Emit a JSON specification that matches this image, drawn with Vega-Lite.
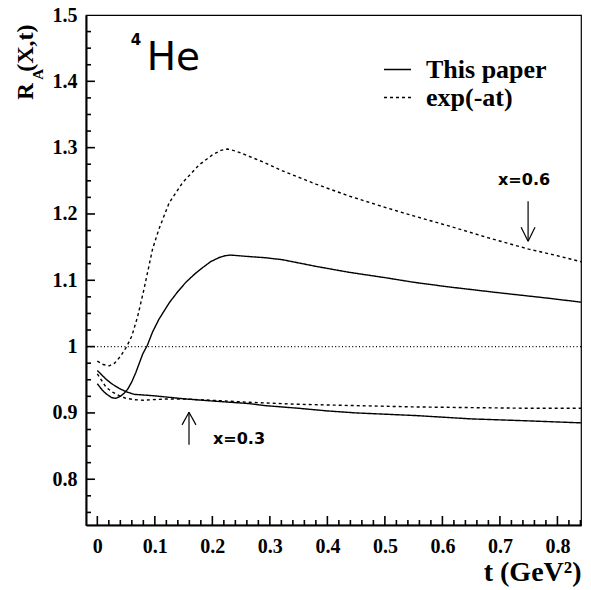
{
  "$schema": "https://vega.github.io/schema/vega-lite/v6.json",
  "width": 495,
  "height": 510,
  "autosize": "none",
  "padding": {"left": 86, "top": 15, "right": 10, "bottom": 65},
  "background": "white",
  "config": {
    "view": {"stroke": "black", "strokeWidth": 1.2},
    "line": {"color": "black", "strokeWidth": 1.4},
    "rule": {"color": "black"},
    "text": {"color": "black"},
    "axis": {
      "zindex": 1,
      "domainColor": "black",
      "domainWidth": 2,
      "grid": false,
      "labelFont": "Liberation Serif",
      "labelFontWeight": "bold",
      "labelFontSize": 20,
      "labelColor": "black",
      "labelOverlap": false,
      "labelFlush": false,
      "titleFont": "Liberation Serif",
      "titleFontWeight": "bold",
      "titleFontSize": 28,
      "titleColor": "black"
    }
  },
  "resolve": {"axis": {"x": "independent", "y": "independent"}},
  "datasets": {
    "curves": [
      {"t": 0, "R": 0.944, "x": "0.6", "model": "This paper"},
      {"t": 0.008, "R": 0.935, "x": "0.6", "model": "This paper"},
      {"t": 0.015, "R": 0.929, "x": "0.6", "model": "This paper"},
      {"t": 0.025, "R": 0.923, "x": "0.6", "model": "This paper"},
      {"t": 0.032, "R": 0.922, "x": "0.6", "model": "This paper"},
      {"t": 0.04, "R": 0.925, "x": "0.6", "model": "This paper"},
      {"t": 0.047, "R": 0.93, "x": "0.6", "model": "This paper"},
      {"t": 0.053, "R": 0.936, "x": "0.6", "model": "This paper"},
      {"t": 0.06, "R": 0.947, "x": "0.6", "model": "This paper"},
      {"t": 0.067, "R": 0.961, "x": "0.6", "model": "This paper"},
      {"t": 0.073, "R": 0.975, "x": "0.6", "model": "This paper"},
      {"t": 0.079, "R": 0.989, "x": "0.6", "model": "This paper"},
      {"t": 0.087, "R": 1.002, "x": "0.6", "model": "This paper"},
      {"t": 0.096, "R": 1.022, "x": "0.6", "model": "This paper"},
      {"t": 0.107, "R": 1.041, "x": "0.6", "model": "This paper"},
      {"t": 0.125, "R": 1.066, "x": "0.6", "model": "This paper"},
      {"t": 0.14, "R": 1.083, "x": "0.6", "model": "This paper"},
      {"t": 0.154, "R": 1.097, "x": "0.6", "model": "This paper"},
      {"t": 0.17, "R": 1.11, "x": "0.6", "model": "This paper"},
      {"t": 0.183, "R": 1.119, "x": "0.6", "model": "This paper"},
      {"t": 0.197, "R": 1.128, "x": "0.6", "model": "This paper"},
      {"t": 0.211, "R": 1.134, "x": "0.6", "model": "This paper"},
      {"t": 0.222, "R": 1.137, "x": "0.6", "model": "This paper"},
      {"t": 0.232, "R": 1.138, "x": "0.6", "model": "This paper"},
      {"t": 0.26, "R": 1.136, "x": "0.6", "model": "This paper"},
      {"t": 0.292, "R": 1.134, "x": "0.6", "model": "This paper"},
      {"t": 0.322, "R": 1.131, "x": "0.6", "model": "This paper"},
      {"t": 0.38, "R": 1.121, "x": "0.6", "model": "This paper"},
      {"t": 0.438, "R": 1.112, "x": "0.6", "model": "This paper"},
      {"t": 0.5, "R": 1.104, "x": "0.6", "model": "This paper"},
      {"t": 0.55, "R": 1.097, "x": "0.6", "model": "This paper"},
      {"t": 0.611, "R": 1.09, "x": "0.6", "model": "This paper"},
      {"t": 0.7, "R": 1.081, "x": "0.6", "model": "This paper"},
      {"t": 0.784, "R": 1.073, "x": "0.6", "model": "This paper"},
      {"t": 0.841, "R": 1.067, "x": "0.6", "model": "This paper"},

      {"t": 0, "R": 0.978, "x": "0.6", "model": "exp(-at)"},
      {"t": 0.01, "R": 0.973, "x": "0.6", "model": "exp(-at)"},
      {"t": 0.021, "R": 0.971, "x": "0.6", "model": "exp(-at)"},
      {"t": 0.03, "R": 0.975, "x": "0.6", "model": "exp(-at)"},
      {"t": 0.04, "R": 0.985, "x": "0.6", "model": "exp(-at)"},
      {"t": 0.051, "R": 1.0, "x": "0.6", "model": "exp(-at)"},
      {"t": 0.06, "R": 1.016, "x": "0.6", "model": "exp(-at)"},
      {"t": 0.07, "R": 1.045, "x": "0.6", "model": "exp(-at)"},
      {"t": 0.081, "R": 1.086, "x": "0.6", "model": "exp(-at)"},
      {"t": 0.096, "R": 1.147, "x": "0.6", "model": "exp(-at)"},
      {"t": 0.107, "R": 1.177, "x": "0.6", "model": "exp(-at)"},
      {"t": 0.125, "R": 1.217, "x": "0.6", "model": "exp(-at)"},
      {"t": 0.148, "R": 1.247, "x": "0.6", "model": "exp(-at)"},
      {"t": 0.177, "R": 1.274, "x": "0.6", "model": "exp(-at)"},
      {"t": 0.2, "R": 1.289, "x": "0.6", "model": "exp(-at)"},
      {"t": 0.215, "R": 1.296, "x": "0.6", "model": "exp(-at)"},
      {"t": 0.226, "R": 1.298, "x": "0.6", "model": "exp(-at)"},
      {"t": 0.24, "R": 1.295, "x": "0.6", "model": "exp(-at)"},
      {"t": 0.258, "R": 1.289, "x": "0.6", "model": "exp(-at)"},
      {"t": 0.292, "R": 1.277, "x": "0.6", "model": "exp(-at)"},
      {"t": 0.322, "R": 1.265, "x": "0.6", "model": "exp(-at)"},
      {"t": 0.38, "R": 1.245, "x": "0.6", "model": "exp(-at)"},
      {"t": 0.438, "R": 1.227, "x": "0.6", "model": "exp(-at)"},
      {"t": 0.5, "R": 1.21, "x": "0.6", "model": "exp(-at)"},
      {"t": 0.55, "R": 1.197, "x": "0.6", "model": "exp(-at)"},
      {"t": 0.611, "R": 1.182, "x": "0.6", "model": "exp(-at)"},
      {"t": 0.68, "R": 1.164, "x": "0.6", "model": "exp(-at)"},
      {"t": 0.75, "R": 1.147, "x": "0.6", "model": "exp(-at)"},
      {"t": 0.8, "R": 1.137, "x": "0.6", "model": "exp(-at)"},
      {"t": 0.841, "R": 1.128, "x": "0.6", "model": "exp(-at)"},

      {"t": 0, "R": 0.964, "x": "0.3", "model": "This paper"},
      {"t": 0.015, "R": 0.951, "x": "0.3", "model": "This paper"},
      {"t": 0.025, "R": 0.944, "x": "0.3", "model": "This paper"},
      {"t": 0.038, "R": 0.937, "x": "0.3", "model": "This paper"},
      {"t": 0.05, "R": 0.932, "x": "0.3", "model": "This paper"},
      {"t": 0.064, "R": 0.928, "x": "0.3", "model": "This paper"},
      {"t": 0.08, "R": 0.927, "x": "0.3", "model": "This paper"},
      {"t": 0.096, "R": 0.926, "x": "0.3", "model": "This paper"},
      {"t": 0.12, "R": 0.924, "x": "0.3", "model": "This paper"},
      {"t": 0.154, "R": 0.921, "x": "0.3", "model": "This paper"},
      {"t": 0.2, "R": 0.918, "x": "0.3", "model": "This paper"},
      {"t": 0.265, "R": 0.914, "x": "0.3", "model": "This paper"},
      {"t": 0.292, "R": 0.911, "x": "0.3", "model": "This paper"},
      {"t": 0.35, "R": 0.907, "x": "0.3", "model": "This paper"},
      {"t": 0.4, "R": 0.903, "x": "0.3", "model": "This paper"},
      {"t": 0.45, "R": 0.9, "x": "0.3", "model": "This paper"},
      {"t": 0.554, "R": 0.896, "x": "0.3", "model": "This paper"},
      {"t": 0.65, "R": 0.891, "x": "0.3", "model": "This paper"},
      {"t": 0.75, "R": 0.888, "x": "0.3", "model": "This paper"},
      {"t": 0.841, "R": 0.885, "x": "0.3", "model": "This paper"},

      {"t": 0, "R": 0.959, "x": "0.3", "model": "exp(-at)"},
      {"t": 0.015, "R": 0.939, "x": "0.3", "model": "exp(-at)"},
      {"t": 0.025, "R": 0.932, "x": "0.3", "model": "exp(-at)"},
      {"t": 0.038, "R": 0.926, "x": "0.3", "model": "exp(-at)"},
      {"t": 0.05, "R": 0.922, "x": "0.3", "model": "exp(-at)"},
      {"t": 0.064, "R": 0.92, "x": "0.3", "model": "exp(-at)"},
      {"t": 0.08, "R": 0.919, "x": "0.3", "model": "exp(-at)"},
      {"t": 0.096, "R": 0.92, "x": "0.3", "model": "exp(-at)"},
      {"t": 0.12, "R": 0.921, "x": "0.3", "model": "exp(-at)"},
      {"t": 0.154, "R": 0.921, "x": "0.3", "model": "exp(-at)"},
      {"t": 0.2, "R": 0.919, "x": "0.3", "model": "exp(-at)"},
      {"t": 0.265, "R": 0.916, "x": "0.3", "model": "exp(-at)"},
      {"t": 0.292, "R": 0.915, "x": "0.3", "model": "exp(-at)"},
      {"t": 0.35, "R": 0.913, "x": "0.3", "model": "exp(-at)"},
      {"t": 0.45, "R": 0.911, "x": "0.3", "model": "exp(-at)"},
      {"t": 0.554, "R": 0.909, "x": "0.3", "model": "exp(-at)"},
      {"t": 0.65, "R": 0.908, "x": "0.3", "model": "exp(-at)"},
      {"t": 0.75, "R": 0.907, "x": "0.3", "model": "exp(-at)"},
      {"t": 0.841, "R": 0.907, "x": "0.3", "model": "exp(-at)"}
    ],
    "t_major": [{"v": 0}, {"v": 0.1}, {"v": 0.2}, {"v": 0.3}, {"v": 0.4}, {"v": 0.5}, {"v": 0.6}, {"v": 0.7}, {"v": 0.8}],
    "t_minor": [{"v": 0.02}, {"v": 0.04}, {"v": 0.06}, {"v": 0.08}, {"v": 0.12}, {"v": 0.14}, {"v": 0.16}, {"v": 0.18}, {"v": 0.22}, {"v": 0.24}, {"v": 0.26}, {"v": 0.28}, {"v": 0.32}, {"v": 0.34}, {"v": 0.36}, {"v": 0.38}, {"v": 0.42}, {"v": 0.44}, {"v": 0.46}, {"v": 0.48}, {"v": 0.52}, {"v": 0.54}, {"v": 0.56}, {"v": 0.58}, {"v": 0.62}, {"v": 0.64}, {"v": 0.66}, {"v": 0.68}, {"v": 0.72}, {"v": 0.74}, {"v": 0.76}, {"v": 0.78}, {"v": 0.82}, {"v": 0.84}],
    "r_major": [{"v": 0.8}, {"v": 0.9}, {"v": 1}, {"v": 1.1}, {"v": 1.2}, {"v": 1.3}, {"v": 1.4}],
    "r_minor": [{"v": 0.75}, {"v": 0.775}, {"v": 0.825}, {"v": 0.85}, {"v": 0.875}, {"v": 0.925}, {"v": 0.95}, {"v": 0.975}, {"v": 1.025}, {"v": 1.05}, {"v": 1.075}, {"v": 1.125}, {"v": 1.15}, {"v": 1.175}, {"v": 1.225}, {"v": 1.25}, {"v": 1.275}, {"v": 1.325}, {"v": 1.35}, {"v": 1.375}, {"v": 1.425}, {"v": 1.45}, {"v": 1.475}],
    "one": [{}]
  },
  "layer": [
    {
      "data": {"name": "curves"},
      "mark": {"type": "line", "clip": true},
      "encoding": {
        "x": {
          "field": "t",
          "type": "quantitative",
          "scale": {"domain": [-0.0197, 0.841], "nice": false, "zero": false},
          "axis": {
            "orient": "bottom",
            "title": "t (GeV²)",
            "titleAnchor": "end",
            "titleAlign": "right",
            "titlePadding": 2,
            "values": [0, 0.1, 0.2, 0.3, 0.4, 0.5, 0.6, 0.7, 0.8],
            "format": "~g",
            "domain": true,
            "ticks": false,
            "tickSize": 0,
            "labelPadding": 11
          }
        },
        "y": {
          "field": "R",
          "type": "quantitative",
          "scale": {"domain": [0.731, 1.5], "nice": false, "zero": false},
          "axis": {
            "orient": "left",
            "title": null,
            "values": [0.8, 0.9, 1, 1.1, 1.2, 1.3, 1.4, 1.5],
            "format": "~g",
            "domain": true,
            "ticks": false,
            "tickSize": 0,
            "labelPadding": 9
          }
        },
        "detail": {"field": "x"},
        "strokeDash": {
          "field": "model",
          "type": "nominal",
          "scale": {"domain": ["This paper", "exp(-at)"], "range": [[1, 0], [3, 3]]},
          "legend": {
            "title": null,
            "orient": "none",
            "legendX": 297,
            "legendY": 40,
            "symbolType": "stroke",
            "symbolSize": 729,
            "symbolStrokeColor": "black",
            "symbolStrokeWidth": 1.3,
            "labelFont": "Liberation Serif",
            "labelFontWeight": "bold",
            "labelFontSize": 26,
            "labelColor": "black",
            "labelOffset": 14,
            "rowPadding": 0,
            "labelLimit": 300
          }
        }
      }
    },
    {
      "data": {"name": "t_major"},
      "mark": {"type": "rule", "strokeWidth": 1.6},
      "encoding": {
        "x": {"field": "v", "type": "quantitative", "axis": null},
        "y": {"datum": 0.731, "axis": null},
        "y2": {"datum": 0.7446}
      }
    },
    {
      "data": {"name": "t_minor"},
      "mark": {"type": "rule", "strokeWidth": 1.6},
      "encoding": {
        "x": {"field": "v", "type": "quantitative", "axis": null},
        "y": {"datum": 0.731, "axis": null},
        "y2": {"datum": 0.7385}
      }
    },
    {
      "data": {"name": "r_major"},
      "mark": {"type": "rule", "strokeWidth": 1.6},
      "encoding": {
        "y": {"field": "v", "type": "quantitative", "axis": null},
        "x": {"datum": -0.0197, "axis": null},
        "x2": {"datum": -0.0041}
      }
    },
    {
      "data": {"name": "r_minor"},
      "mark": {"type": "rule", "strokeWidth": 1.6},
      "encoding": {
        "y": {"field": "v", "type": "quantitative", "axis": null},
        "x": {"datum": -0.0197, "axis": null},
        "x2": {"datum": -0.011}
      }
    },
    {
      "data": {"name": "one"},
      "mark": {"type": "rule", "strokeDash": [1, 2.4], "strokeWidth": 1.1},
      "encoding": {
        "y": {"datum": 1, "axis": null}
      }
    },
    {
      "data": {"name": "one"},
      "mark": {"type": "rule", "strokeWidth": 1.2},
      "encoding": {"x": {"datum": 0.749, "axis": null}, "y": {"datum": 1.219, "axis": null}, "y2": {"datum": 1.159}}
    },
    {
      "data": {"name": "one"},
      "mark": {"type": "rule", "strokeWidth": 1.2},
      "encoding": {"x": {"datum": 0.7369, "axis": null}, "y": {"datum": 1.18, "axis": null}, "x2": {"datum": 0.749}, "y2": {"datum": 1.159}}
    },
    {
      "data": {"name": "one"},
      "mark": {"type": "rule", "strokeWidth": 1.2},
      "encoding": {"x": {"datum": 0.7611, "axis": null}, "y": {"datum": 1.18, "axis": null}, "x2": {"datum": 0.749}, "y2": {"datum": 1.159}}
    },
    {
      "data": {"name": "one"},
      "mark": {"type": "rule", "strokeWidth": 1.2},
      "encoding": {"x": {"datum": 0.1594, "axis": null}, "y": {"datum": 0.852, "axis": null}, "y2": {"datum": 0.901}}
    },
    {
      "data": {"name": "one"},
      "mark": {"type": "rule", "strokeWidth": 1.2},
      "encoding": {"x": {"datum": 0.1473, "axis": null}, "y": {"datum": 0.882, "axis": null}, "x2": {"datum": 0.1594}, "y2": {"datum": 0.901}}
    },
    {
      "data": {"name": "one"},
      "mark": {"type": "rule", "strokeWidth": 1.2},
      "encoding": {"x": {"datum": 0.1715, "axis": null}, "y": {"datum": 0.882, "axis": null}, "x2": {"datum": 0.1594}, "y2": {"datum": 0.901}}
    },
    {
      "data": {"name": "one"},
      "mark": {"type": "text", "text": "x=0.6", "font": "DejaVu Sans", "fontWeight": "bold", "fontSize": 16, "align": "center", "baseline": "middle"},
      "encoding": {"x": {"datum": 0.742, "axis": null}, "y": {"datum": 1.251, "axis": null}}
    },
    {
      "data": {"name": "one"},
      "mark": {"type": "text", "text": "x=0.3", "font": "DejaVu Sans", "fontWeight": "bold", "fontSize": 16, "align": "center", "baseline": "middle"},
      "encoding": {"x": {"datum": 0.2464, "axis": null}, "y": {"datum": 0.861, "axis": null}}
    },
    {
      "data": {"name": "one"},
      "mark": {"type": "text", "text": "He", "font": "DejaVu Sans", "fontSize": 39, "align": "left", "baseline": "alphabetic"},
      "encoding": {"x": {"datum": 0.086, "axis": null}, "y": {"datum": 1.417, "axis": null}}
    },
    {
      "data": {"name": "one"},
      "mark": {"type": "text", "text": "4", "font": "DejaVu Sans", "fontWeight": "bold", "fontSize": 15, "align": "left", "baseline": "alphabetic"},
      "encoding": {"x": {"datum": 0.058, "axis": null}, "y": {"datum": 1.455, "axis": null}}
    },
    {
      "data": {"name": "one"},
      "mark": {"type": "text", "text": "R", "font": "Liberation Serif", "fontWeight": "bold", "fontSize": 23, "angle": 270, "align": "left", "baseline": "alphabetic"},
      "encoding": {"x": {"datum": -0.1114, "axis": null}, "y": {"datum": 1.3722, "axis": null}}
    },
    {
      "data": {"name": "one"},
      "mark": {"type": "text", "text": "A", "font": "Liberation Serif", "fontWeight": "bold", "fontSize": 15, "angle": 270, "align": "left", "baseline": "alphabetic"},
      "encoding": {"x": {"datum": -0.0946, "axis": null}, "y": {"datum": 1.4023, "axis": null}}
    },
    {
      "data": {"name": "one"},
      "mark": {"type": "text", "text": "(X,t)", "font": "Liberation Serif", "fontWeight": "bold", "fontSize": 24, "angle": 270, "align": "left", "baseline": "alphabetic"},
      "encoding": {"x": {"datum": -0.1114, "axis": null}, "y": {"datum": 1.4143, "axis": null}}
    }
  ]
}
